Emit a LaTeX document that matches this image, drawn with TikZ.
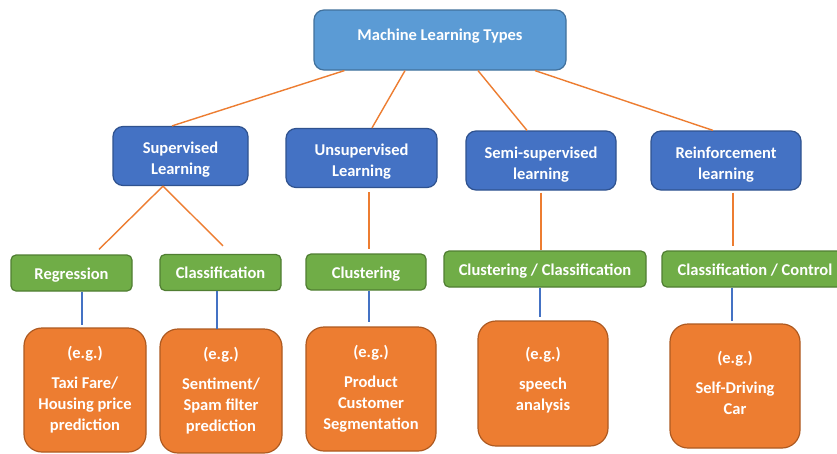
\documentclass[tikz,border=0pt]{standalone}
\usepackage{fontspec}
\setmainfont{Carlito}
% struts that lower the first line or raise the last line of a multi-line label
\newcommand{\toppad}{\rule{0pt}{19.5pt}}
\newcommand{\botpad}[1]{\rule[-#1]{0pt}{0pt}}
\begin{document}
\begin{tikzpicture}[x=1pt,y=1pt,
  txt/.style={font=\fontsize{16.5}{21}\selectfont\bfseries, text=white, align=center, inner sep=0pt},
  topbox/.style={txt, draw=topedge, fill=topfill, line width=1.2pt, rounded corners=10pt, text height=12pt, text depth=12pt},
  typebox/.style={txt, draw=blueedge, fill=bluefill, line width=1.2pt, rounded corners=10pt, minimum height=59pt},
  taskbox/.style={txt, draw=greenedge, fill=greenfill, line width=1.2pt, rounded corners=5pt, minimum height=36pt, text height=16pt, text depth=3.5pt},
  examplebox/.style={txt, draw=orangeedge, fill=orangefill, line width=1.2pt, rounded corners=18pt},
  orangelink/.style={draw=orangefill, line width=1.4pt},
  bluelink/.style={draw=bluefill, line width=1.4pt}
]
\definecolor{topfill}{HTML}{5B9BD5}
\definecolor{topedge}{HTML}{41719C}
\definecolor{bluefill}{HTML}{4472C4}
\definecolor{blueedge}{HTML}{2F528F}
\definecolor{greenfill}{HTML}{70AD47}
\definecolor{greenedge}{HTML}{507E32}
\definecolor{orangefill}{HTML}{ED7D31}
\definecolor{orangeedge}{HTML}{AE5A21}

\fill[white] (0,0) rectangle (837,-453);
\useasboundingbox (0,0) rectangle (837,-453);

% root
\node[topbox, minimum width=252pt, minimum height=60pt] (top) at (440,-40) {Machine Learning Types};

% learning types
\node[typebox, minimum width=135pt] (sup) at (180.5,-156) {\toppad Supervised\\Learning};
\node[typebox, minimum width=151pt] (uns) at (361.5,-158) {\toppad Unsupervised\\Learning};
\node[typebox, minimum width=150pt] (semi) at (541,-160.5) {\toppad Semi-supervised\\learning};
\node[typebox, minimum width=150pt] (rein) at (726,-160.5) {\toppad Reinforcement\\learning};

% tasks
\node[taskbox, minimum width=121pt] (reg) at (71.5,-273) {Regression};
\node[taskbox, minimum width=121pt] (cls) at (220.5,-272.5) {Classification};
\node[taskbox, minimum width=120pt] (clu) at (366,-272) {Clustering};
\node[taskbox, minimum width=202pt] (cc) at (545,-269) {Clustering / Classification};
\node[taskbox, minimum width=186pt] (ccl) at (755,-269) {Classification / Control};

% examples
\node[examplebox, minimum width=122pt, minimum height=124pt] (ex1) at (85,-390) {(e.g.)\\[9pt]Taxi Fare/\\Housing price\\prediction};
\node[examplebox, minimum width=122pt, minimum height=124pt] (ex2) at (221,-391) {(e.g.)\\[9pt]Sentiment/\\Spam filter\\prediction};
\node[examplebox, minimum width=130pt, minimum height=124pt] (ex3) at (371,-389) {(e.g.)\\[9pt]Product\\Customer\\Segmentation};
\node[examplebox, minimum width=130pt, minimum height=125pt] (ex4) at (543,-383.5) {(e.g.)\\[9pt]speech\\analysis\botpad{9.5pt}};
\node[examplebox, minimum width=130pt, minimum height=124pt] (ex5) at (735,-386) {(e.g.)\\[9pt]Self-Driving\\Car\botpad{6pt}};

% root to types
\draw[orangelink] ([xshift=31pt]top.south west) -- ([xshift=-8.5pt]sup.north);
\draw[orangelink] ([xshift=-35pt]top.south) -- ([xshift=10.5pt]uns.north);
\draw[orangelink] ([xshift=38pt]top.south) -- ([xshift=-14pt]semi.north);
\draw[orangelink] ([xshift=95pt]top.south) -- ([xshift=-13pt]rein.north);

% types to tasks
\draw[orangelink] ([shift={(-17.5pt,0pt)}]sup.south) -- ([shift={(27.5pt,5pt)}]reg.north);
\draw[orangelink] ([shift={(-17.5pt,0pt)}]sup.south) -- ([shift={(2.5pt,8pt)}]cls.north);
\draw[orangelink] ([shift={(7.5pt,-4pt)}]uns.south) -- ([shift={(3pt,4pt)}]clu.north);
\draw[orangelink] ([shift={(0pt,-2pt)}]semi.south) -- ([shift={(-4pt,0pt)}]cc.north);
\draw[orangelink] ([shift={(7pt,-2pt)}]rein.south) -- ([shift={(-22pt,4pt)}]ccl.north);

% tasks to examples
\draw[bluelink] ([xshift=10.5pt]reg.south) -- ([shift={(-3pt,2pt)}]ex1.north);
\draw[bluelink] ([xshift=-3.5pt]cls.south) -- ([shift={(-4pt,-1pt)}]ex2.north);
\draw[bluelink] ([xshift=3pt]clu.south) -- ([shift={(-2pt,4pt)}]ex3.north);
\draw[bluelink] ([xshift=-5pt]cc.south) -- ([shift={(-3pt,3pt)}]ex4.north);
\draw[bluelink] ([xshift=-23pt]ccl.south) -- ([shift={(-3pt,2pt)}]ex5.north);
\end{tikzpicture}
\end{document}
